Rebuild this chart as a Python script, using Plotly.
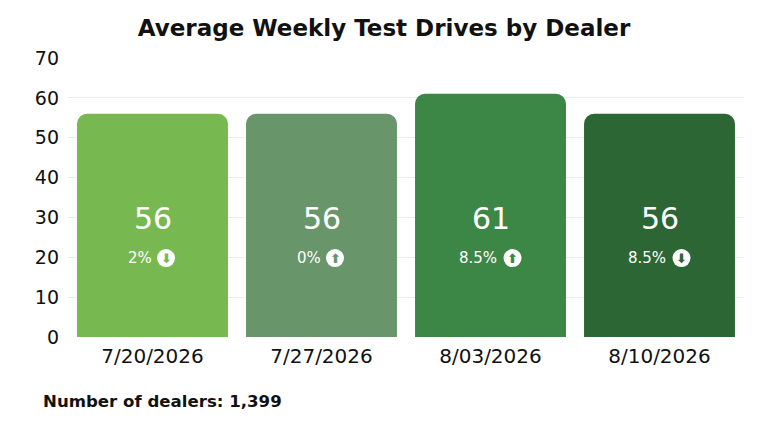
import plotly.graph_objects as go

weeks = ["7/20/2026", "7/27/2026", "8/03/2026", "8/10/2026"]
values = [56, 56, 61, 56]
pct_change = ["2%", "0%", "8.5%", "8.5%"]
direction = ["down", "up", "up", "down"]
bar_colors = ["#78b850", "#68966a", "#3c8746", "#2d6635"]
dealer_count = "1,399"

FONT = "DejaVu Sans"
VALUE_Y = 29.7
PCT_Y = 19.8

# The page has an 8px body margin, so the figure is drawn 8px in from the top/left.
W, H = 760, 424

fig = go.Figure()
fig.add_trace(go.Bar(
    x=weeks, y=values,
    marker=dict(color=bar_colors, line=dict(width=0)),
    hoverinfo="skip",
))

annotations = []
shapes = []
for w, v, p, d, c in zip(weeks, values, pct_change, direction, bar_colors):
    annotations.append(dict(
        x=w, y=VALUE_Y, xref="x", yref="y", text=str(v), showarrow=False,
        font=dict(family=FONT, size=30, color="white"),
    ))
    tw = 10 * len(p) if "." in p else 11.5 * len(p)
    annotations.append(dict(
        x=w, y=PCT_Y, xref="x", yref="y", text=p, showarrow=False,
        font=dict(family=FONT, size=15, color="white"), xshift=-13,
    ))
    cx = tw / 2 + 2
    shapes.append(dict(
        type="circle", xref="x", yref="y", xsizemode="pixel", ysizemode="pixel",
        xanchor=w, yanchor=PCT_Y, x0=cx - 9, x1=cx + 9, y0=-9, y1=9,
        fillcolor="white", line=dict(width=0), layer="above",
    ))
    annotations.append(dict(
        x=w, y=PCT_Y, xref="x", yref="y", text="<b>" + ("⬆" if d == "up" else "⬇") + "</b>",
        showarrow=False, font=dict(family="DejaVu Sans", size=13, color=c),
        xshift=cx, yshift=0,
    ))

annotations.append(dict(
    x=-27 / 676, y=-64 / 279, xref="paper", yref="paper", xanchor="left", yanchor="middle",
    text=f"<b>Number of dealers: {dealer_count}</b>", showarrow=False,
    font=dict(family=FONT, size=16.6, color="#111111"),
))

fig.update_layout(
    width=W, height=H,
    margin=dict(l=60, r=24, t=50, b=95),
    paper_bgcolor="white", plot_bgcolor="white",
    showlegend=False,
    bargap=0.107,
    barcornerradius=10,
    title=dict(
        text="<b>Average Weekly Test Drives by Dealer</b>",
        x=(384 - 8) / W, xanchor="center", y=1 - 20 / H, yanchor="middle",
        font=dict(family=FONT, size=23, color="#111111"),
    ),
    xaxis=dict(
        showgrid=False, showline=False, ticks="",
        tickfont=dict(family=FONT, size=20, color="#111111"),
        ticklabelstandoff=5,
    ),
    yaxis=dict(
        range=[0, 70], dtick=10, showgrid=True, gridcolor="#ebebeb", gridwidth=1,
        zeroline=False, showline=False, ticks="",
        tickfont=dict(family=FONT, size=19, color="#111111"),
        ticklabelstandoff=8,
    ),
    annotations=annotations,
    shapes=shapes,
)

fig.write_html("out.html")
